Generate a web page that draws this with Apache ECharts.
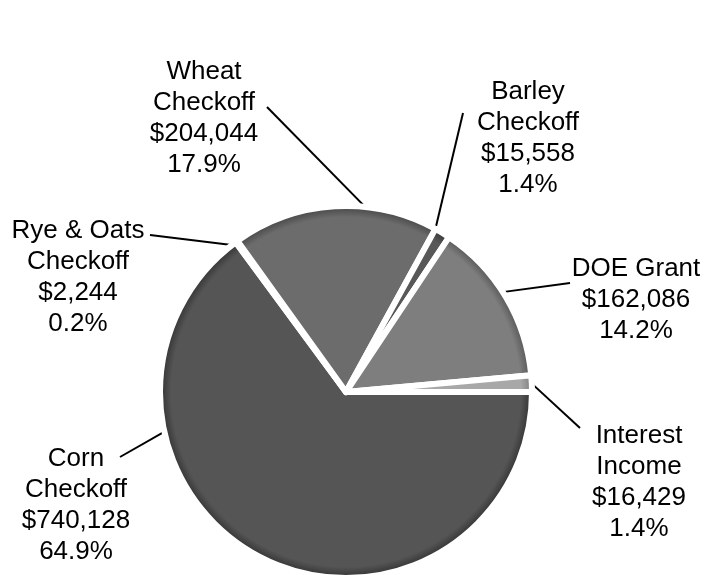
<!DOCTYPE html>
<html>
<head>
<meta charset="utf-8">
<script src="https://cdn.jsdelivr.net/npm/echarts@6/dist/echarts.min.js"></script>
<style>
  html, body { margin: 0; padding: 0; background: #fff; }
  #main { width: 707px; height: 575px; }
</style>
</head>
<body>
<div id="main"></div>
<script>
var names = ['Corn\nCheckoff', 'Rye & Oats\nCheckoff', 'Wheat\nCheckoff', 'Barley\nCheckoff', 'DOE Grant', 'Interest\nIncome'];
var values = [740128, 2244, 204044, 15558, 162086, 16429];
var colors = ['#555555', '#dcdcdc', '#6c6c6c', '#585858', '#7e7e7e', '#a8a8a8'];
var rims = ['#3a3a3a', '#b8b8b8', '#4e4e4e', '#3e3e3e', '#5e5e5e', '#888888'];

// where each label block sits (centre of the text)
var labelX = [76, 78, 204, 528, 636, 639];
var labelY = [505, 277, 118, 138, 300, 482];
// leader lines: label end, and how far along its slice the other end touches
var lineEndX = [120, 150, 267, 463, 570, 580];
var lineEndY = [457, 235, 107, 113, 283, 428];
var lineFrac = [0.72, 0.5, 0.68, 0.1, 0.45, 0.15];

var cx = 346, cy = 392, r = 186;

function money(v) {
  return '$' + String(v).replace(/\B(?=(\d{3})+(?!\d))/g, ',');
}

var total = 0;
for (var k = 0; k < values.length; k++) total += values[k];

// point on a slice (clockwise from east, like the series)
function slicePoint(i) {
  var before = 0;
  for (var j = 0; j < i; j++) before += values[j];
  var a = (before + values[i] * lineFrac[i]) / total * 2 * Math.PI;
  var rr = r * 0.97;
  return [cx + rr * Math.cos(a), cy + rr * Math.sin(a)];
}

var myChart = echarts.init(document.getElementById('main'));

var data = [];
for (var i = 0; i < values.length; i++) {
  data.push({
    name: names[i],
    value: values[i],
    itemStyle: {
      color: new echarts.graphic.RadialGradient(cx, cy, r, [
        { offset: 0, color: colors[i] },
        { offset: 0.94, color: colors[i] },
        { offset: 0.985, color: rims[i] },
        { offset: 1, color: rims[i] }
      ], true)
    }
  });
}

var option = {
  animation: false,
  series: [{
    type: 'pie',
    center: [cx, cy],
    radius: [0, r],
    startAngle: 0,
    clockwise: true,
    percentPrecision: 1,
    avoidLabelOverlap: false,
    itemStyle: { borderColor: '#ffffff', borderWidth: 6 },
    label: {
      show: true,
      position: 'outside',
      color: '#000',
      fontFamily: 'Liberation Sans, Arial, sans-serif',
      fontSize: 26,
      lineHeight: 31,
      align: 'center',
      formatter: function (p) {
        return p.name + '\n' + money(p.value) + '\n' + p.percent.toFixed(1) + '%';
      }
    },
    labelLine: {
      show: true,
      length: 10,
      length2: 0,
      lineStyle: { color: '#000', width: 2 }
    },
    labelLayout: function (p) {
      var i = p.dataIndex;
      var s = slicePoint(i);
      return {
        x: labelX[i],
        y: labelY[i],
        align: 'center',
        verticalAlign: 'middle',
        labelLinePoints: [s, [lineEndX[i], lineEndY[i]], [lineEndX[i], lineEndY[i]]]
      };
    },
    data: data
  }]
};
myChart.setOption(option);
</script>
</body>
</html>
